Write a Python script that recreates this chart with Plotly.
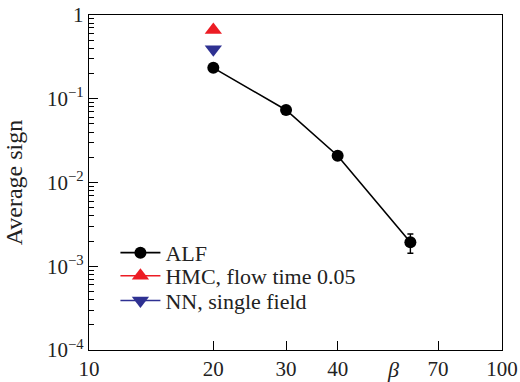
import plotly.graph_objects as go

# data
beta_alf = [20, 30, 40, 60]
sign_alf = [0.234, 0.0734, 0.0209, 0.00193]
err_alf = [0.0, 0.0, 0.0, 0.0005]

beta_hmc = [20]
sign_hmc = [0.66]

beta_nn = [20]
sign_nn = [0.39]

x_ticks = [10, 20, 30, 40, 70, 100]
x_ticklabels = ["10", "20", "30", "40", "70", "100"]
y_ticks = [1e-4, 1e-3, 1e-2, 1e-1, 1]
y_ticklabels = ["10<sup>−4</sup>", "10<sup>−3</sup>", "10<sup>−2</sup>", "10<sup>−1</sup>", "1"]
y_minor = [m * 10.0 ** e for e in range(-4, 0) for m in range(2, 10)]

FONT = "Liberation Serif"
TXT = "#222"

fig = go.Figure()
fig.add_trace(go.Scatter(
    x=beta_alf, y=sign_alf, name="ALF", mode="lines+markers",
    line=dict(color="black", width=1.6),
    marker=dict(color="black", size=12, symbol="circle"),
    error_y=dict(type="data", array=err_alf, color="black", thickness=1.4, width=3),
    legend="legend",
))
fig.add_trace(go.Scatter(
    x=beta_hmc, y=sign_hmc, name="HMC, flow time 0.05", mode="lines+markers",
    line=dict(color="#ec1c24", width=1.6),
    marker=dict(color="#ec1c24", size=15, symbol="triangle-up"),
    legend="legend2",
))
fig.add_trace(go.Scatter(
    x=beta_nn, y=sign_nn, name="NN, single field", mode="lines+markers",
    line=dict(color="#2e3192", width=1.6),
    marker=dict(color="#2e3192", size=15, symbol="triangle-down"),
    legend="legend3",
))

fig.update_xaxes(
    type="log", range=[1, 2], automargin=False,
    tickvals=x_ticks, ticktext=x_ticklabels,
    ticks="inside", ticklen=9, tickwidth=1.2, tickcolor="black",
    showline=True, linecolor="black", linewidth=1.4, mirror=True,
    showgrid=False, zeroline=False,
    tickfont=dict(family=FONT, size=21, color=TXT),
)
fig.update_yaxes(
    type="log", range=[-4, 0], automargin=False,
    tickvals=y_ticks, ticktext=y_ticklabels,
    ticks="inside", ticklen=9, tickwidth=1.2, tickcolor="black",
    minor=dict(tickmode="array", tickvals=y_minor, ticks="inside", ticklen=5,
               tickwidth=1, tickcolor="black", showgrid=False),
    showline=True, linecolor="black", linewidth=1.4, mirror=True,
    showgrid=False, zeroline=False,
    tickfont=dict(family=FONT, size=21, color=TXT),
    title=dict(text="Average sign", font=dict(family=FONT, size=24, color=TXT), standoff=17),
)

fig.add_annotation(
    x=0.736, y=-0.058, xref="paper", yref="paper", text="<i>β</i>",
    showarrow=False, font=dict(family=FONT, size=22, color=TXT),
    xanchor="center", yanchor="middle",
)

leg_common = dict(
    x=0.064, xanchor="left", yanchor="middle",
    bgcolor="rgba(0,0,0,0)", borderwidth=0,
    font=dict(family=FONT, size=22, color=TXT),
    itemwidth=40,
)
fig.update_layout(
    width=520, height=382,
    margin=dict(l=89, r=18, t=15, b=32),
    paper_bgcolor="white", plot_bgcolor="white",
    showlegend=True,
    legend=dict(y=0.290, **leg_common),
    legend2=dict(y=0.221, **leg_common),
    legend3=dict(y=0.147, **leg_common),
)

fig.write_html("out.html", config={"displayModeBar": False},
               post_script="document.body.style.margin='0';")
